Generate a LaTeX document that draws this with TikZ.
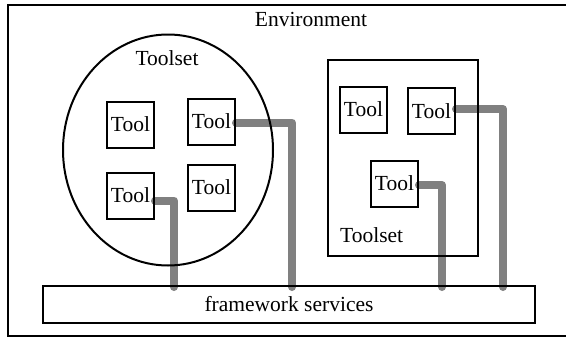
\documentclass[tikz,border=0pt]{standalone}
\usepackage{fontspec}
\setmainfont{Liberation Serif}
\usetikzlibrary{backgrounds,shapes.geometric}
\definecolor{linkgray}{RGB}{128,128,128}
\tikzset{
  lbl/.style={font=\fontsize{21.5}{25}\selectfont, inner sep=0pt},
  toolbox/.style={draw, line width=2pt, minimum width=47pt, minimum height=46pt,
    inner sep=0pt, font=\fontsize{21.5}{25}\selectfont},
  container/.style={draw, line width=2pt, inner sep=0pt},
  conn/.style={draw=linkgray, line width=8pt, line cap=round, line join=round},
}
\begin{document}
\begin{tikzpicture}[x=1pt, y=-1pt]
  \useasboundingbox (0,0) rectangle (566,338);
  % environment frame (runs past the right edge)
  \node[container, anchor=north west, minimum width=568pt, minimum height=331pt] (env) at (7,4) {};
  \node[lbl] (envlabel) at (311,19) {Environment};

  % left toolset: ellipse
  \node[container, ellipse, minimum width=210pt, minimum height=231pt] (setA) at (168,150) {};
  \node[lbl] (setAlabel) at (167,58) {Toolset};
  \node[toolbox] (a1) at (130.5,124.5) {Tool};
  \node[toolbox] (a2) at (211.5,121.5) {Tool};
  \node[toolbox] (a3) at (130.5,195.5) {Tool};
  \node[toolbox] (a4) at (211.5,187.5) {Tool};

  % right toolset: rectangle
  \node[container, anchor=north west, minimum width=150pt, minimum height=196pt] (setB) at (327,59) {};
  \node[lbl, anchor=west] (setBlabel) at (340,235) {Toolset};
  \node[toolbox] (b1) at (363.5,109.5) {Tool};
  \node[toolbox] (b2) at (431.5,111) {Tool};
  \node[toolbox] (b3) at (394.5,183.5) {Tool};

  % framework services bar
  \node[container, anchor=north west, minimum width=492pt, minimum height=37pt, lbl] (fw) at (42,285) {};
  \node[lbl] (fwlabel) at (fw.center) {framework services};

  % connector end points on the bar
  \coordinate (pa3) at (174,287);
  \coordinate (pa2) at (292,287);
  \coordinate (pb3) at (442,287);
  \coordinate (pb2) at (503,287);

  \begin{scope}[on background layer]
    \draw[conn] ([yshift=-5pt]a3.east) -| (pa3);
    \draw[conn] ([yshift=-1pt]a2.east) -| (pa2);
    \draw[conn] ([yshift=-1.5pt]b3.east) -| (pb3);
    \draw[conn] ([yshift=2pt]b2.east) -| (pb2);
  \end{scope}
\end{tikzpicture}
\end{document}
